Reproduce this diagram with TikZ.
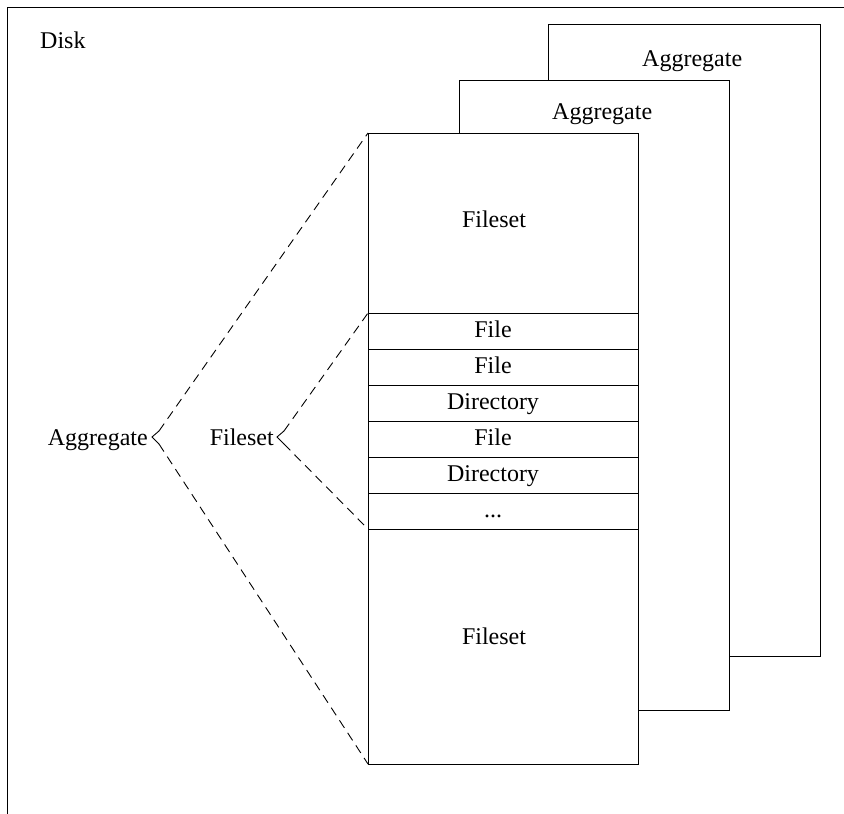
\documentclass[tikz,border=0pt]{standalone}
\usepackage{fontspec}
\setmainfont{Liberation Serif}
\begin{document}
\begin{tikzpicture}[x=1pt,y=-1pt,
  every node/.style={font=\fontsize{24}{29}\selectfont},
  box/.style={draw,fill=white,line width=1pt,inner sep=0pt,outer sep=0pt},
  lbl/.style={anchor=base,inner sep=0pt},
  lblw/.style={anchor=base west,inner sep=0pt},
  dsh/.style={line width=0.9pt,dash pattern=on 9pt off 6pt},
  brk/.style={line width=0.9pt}]
\useasboundingbox (0,0) rectangle (844,814);
% frame
\coordinate (fTL) at (7,7);
\coordinate (fTR) at (844,7);
\coordinate (fBL) at (7,814);
\draw[line width=1pt] (fTR) -- (fTL) -- (fBL);
\node[lblw] (disk) at (40,48) {Disk};
% aggregate boxes
\node[box,minimum width=272pt,minimum height=632pt] (agg3) at (684,340) {};
\node[lblw] (agg3t) at (642,66) {Aggregate};
\node[box,minimum width=270pt,minimum height=630pt] (agg2) at (594,395) {};
\node[lblw] (agg2t) at (552,119) {Aggregate};
\node[box,minimum width=270pt,minimum height=631pt] (agg1) at (503,448.5) {};
% rows
\foreach \y/\n in {313/r1,349/r2,385/r3,421/r4,457/r5,493/r6,529/r7}{
  \coordinate (\n l) at (368,\y);
  \coordinate (\n r) at (638,\y);
  \draw[line width=1pt] (\n l) -- (\n r);
}
\node[lbl] (fs1) at (494,227) {Fileset};
\node[lbl] (f1) at (493,337) {File};
\node[lbl] (f2) at (493,373) {File};
\node[lbl] (d1) at (493,409) {Directory};
\node[lbl] (f3) at (493,445) {File};
\node[lbl] (d2) at (493,481) {Directory};
\node[lbl] (dots) at (493,517) {...};
\node[lbl] (fs2) at (494,644) {Fileset};
% left labels
\node[anchor=base east,inner sep=0pt] (aggL) at (148,445) {Aggregate};
\node[anchor=base east,inner sep=0pt] (fsL) at (274,445) {Fileset};
% brackets
\coordinate (aV) at (152,437);
\coordinate (aU) at (159,431);
\coordinate (aD) at (159,444);
\draw[brk] (aU) -- (aV) -- (aD);
\draw[dsh] (aU) -- (agg1.north west);
\draw[dsh] (aD) -- (agg1.south west);
\coordinate (bV) at (277,437);
\coordinate (bU) at (284,431);
\coordinate (bD) at (284,444);
\draw[brk] (bU) -- (bV) -- (bD);
\draw[dsh] (bU) -- (r1l);
\draw[dsh] (bD) -- (r7l);
\end{tikzpicture}
\end{document}
